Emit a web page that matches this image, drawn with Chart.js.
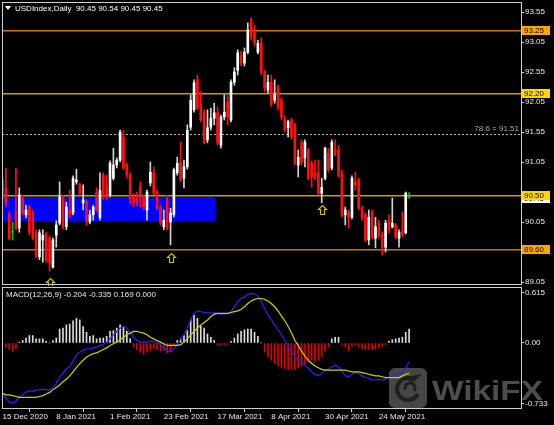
<!DOCTYPE html>
<html>
<head>
<meta charset="utf-8">
<title>USDIndex Daily</title>
<script src="https://cdn.jsdelivr.net/npm/chart.js@4.4.1/dist/chart.umd.min.js"></script>
<style>
  body { margin: 0; background: #000; }
  #wrap { position: relative; width: 554px; height: 425px; background: #000; overflow: hidden; }
  #wrap canvas { position: absolute; left: 0; }
</style>
</head>
<body>
<div id="wrap">
  <canvas id="priceChart" width="554" height="288" style="top:0"></canvas>
  <canvas id="macdChart" width="554" height="139" style="top:286px"></canvas>
</div>
<script>
// chart data (one entry per daily bar, 15 Dec 2020 .. 4 Jun 2021)
let dateTicks = [0, 16, 32, 48, 64, 80, 96, 112];
let dateLabels = ['15 Dec 2020', '8 Jan 2021', '1 Feb 2021', '23 Feb 2021', '17 Mar 2021', '8 Apr 2021', '30 Apr 2021', '24 May 2021'];

let openPrices = [
  90.75, 90.62, 90.17, 89.88, 90.22, 89.95, 90.45, 90.17, 90.30, 90.20,
  89.88, 89.47, 89.75, 89.83, 89.78, 89.30, 89.83, 90.03, 90.47, 89.97,
  90.25, 90.20, 90.72, 90.67, 90.37, 90.38, 90.05, 90.17, 90.55, 90.12,
  90.83, 90.63, 90.50, 90.78, 91.00, 91.08, 91.47, 91.00, 90.83, 90.47,
  90.45, 90.63, 90.45, 90.25, 90.70, 90.87, 90.55, 90.30, 89.97, 90.42,
  90.05, 90.17, 90.87, 91.05, 90.78, 90.97, 91.63, 91.92, 92.42, 92.00,
  91.87, 91.42, 91.63, 91.78, 91.87, 91.33, 91.80, 92.05, 91.75, 92.38,
  92.58, 92.83, 92.70, 92.88, 93.42, 93.22, 92.88, 93.03, 92.55, 92.25,
  92.38, 92.08, 92.30, 92.08, 91.78, 91.62, 91.75, 91.67, 91.00, 91.37,
  91.12, 91.25, 91.03, 90.87, 90.87, 90.53, 90.78, 91.20, 90.95, 91.25,
  91.25, 90.87, 90.17, 90.22, 90.13, 90.72, 90.75, 90.28, 90.17, 89.75,
  90.20, 89.78, 90.03, 89.83, 89.63, 90.08, 89.97, 90.00, 89.78, 89.90,
  89.87, 90.45
];
let highPrices = [
  90.78, 90.95, 90.22, 90.05, 90.95, 90.62, 90.50, 90.33, 90.33, 90.25,
  89.92, 89.92, 89.92, 89.88, 89.82, 89.78, 90.07, 90.72, 90.50, 90.38,
  90.58, 90.82, 90.93, 90.70, 90.67, 90.42, 90.25, 90.33, 90.62, 90.87,
  90.87, 90.83, 91.07, 91.28, 91.12, 91.58, 91.58, 91.03, 90.87, 90.52,
  90.55, 90.72, 90.50, 90.58, 91.05, 90.97, 90.58, 90.33, 90.25, 90.50,
  90.28, 90.95, 91.13, 91.38, 91.08, 91.67, 92.17, 92.42, 92.50, 92.22,
  91.92, 91.92, 91.95, 92.03, 91.97, 91.83, 92.17, 92.17, 92.42, 92.62,
  92.92, 92.90, 92.95, 93.37, 93.45, 93.33, 93.08, 93.12, 92.58, 92.50,
  92.50, 92.42, 92.33, 92.12, 91.82, 91.75, 91.78, 91.70, 91.25, 91.42,
  91.42, 91.28, 91.07, 91.08, 91.08, 90.78, 91.30, 91.28, 91.42, 91.42,
  91.33, 90.92, 90.30, 90.25, 90.82, 90.88, 90.78, 90.32, 90.20, 90.25,
  90.25, 90.13, 90.08, 89.88, 90.08, 90.17, 90.45, 90.03, 89.92, 90.22,
  90.55, 90.54
];
let lowPrices = [
  90.42, 90.30, 89.75, 89.75, 89.92, 89.88, 90.17, 90.12, 89.83, 89.75,
  89.45, 89.42, 89.38, 89.38, 89.23, 89.28, 89.63, 90.00, 89.93, 89.92,
  90.12, 90.17, 90.68, 90.50, 90.25, 90.00, 90.02, 90.08, 90.22, 90.08,
  90.43, 90.42, 90.47, 90.75, 90.95, 91.05, 90.92, 90.78, 90.35, 90.30,
  90.32, 90.30, 90.25, 90.08, 90.65, 90.50, 90.25, 90.00, 89.92, 89.92,
  89.67, 90.13, 90.83, 90.72, 90.62, 90.93, 91.58, 91.88, 91.92, 91.72,
  91.35, 91.37, 91.58, 91.67, 91.33, 91.28, 91.75, 91.67, 91.72, 92.33,
  92.50, 92.65, 92.65, 92.85, 93.08, 92.98, 92.85, 92.50, 92.22, 92.20,
  91.97, 92.03, 91.92, 91.75, 91.55, 91.47, 91.43, 91.00, 90.80, 91.00,
  90.97, 90.75, 90.63, 90.75, 90.50, 90.37, 90.75, 90.88, 90.92, 91.15,
  90.80, 90.13, 90.00, 89.95, 90.10, 90.58, 90.25, 90.08, 89.72, 89.67,
  89.77, 89.62, 89.78, 89.50, 89.55, 89.87, 89.95, 89.77, 89.63, 89.80,
  89.85, 90.45
];
let closePrices = [
  90.47, 90.37, 89.78, 89.88, 89.95, 90.50, 90.20, 90.25, 89.88, 89.78,
  89.50, 89.87, 89.83, 89.42, 89.37, 89.75, 90.00, 90.47, 89.97, 90.30,
  90.17, 90.78, 90.75, 90.53, 90.42, 90.05, 90.17, 90.30, 90.25, 90.58,
  90.47, 90.47, 91.03, 91.00, 91.08, 91.55, 90.95, 90.83, 90.42, 90.37,
  90.37, 90.45, 90.30, 90.55, 90.88, 90.53, 90.28, 90.03, 90.08, 89.95,
  90.20, 90.92, 91.03, 90.75, 90.97, 91.58, 92.08, 92.37, 91.95, 91.75,
  91.38, 91.62, 91.78, 91.87, 91.37, 91.80, 91.88, 91.80, 92.38, 92.55,
  92.87, 92.70, 92.88, 93.25, 93.13, 93.03, 93.03, 92.55, 92.28, 92.38,
  92.03, 92.17, 91.97, 91.80, 91.58, 91.72, 91.47, 91.03, 91.13, 91.05,
  91.38, 90.78, 90.80, 90.80, 90.53, 90.63, 91.28, 90.92, 91.38, 91.20,
  90.83, 90.17, 90.25, 90.12, 90.78, 90.67, 90.28, 90.13, 89.75, 90.13,
  89.80, 89.97, 89.83, 89.63, 90.03, 89.92, 90.03, 89.80, 89.88, 89.83,
  90.53, 90.45
];

// MACD(12,26,9) panel
let macdHist = [
  -0.02, -0.05, -0.08, -0.10, -0.07, 0.01, 0.03, 0.06, 0.09, 0.09,
  0.05, 0.05, 0.05, 0.02, 0.00, 0.03, 0.06, 0.17, 0.18, 0.22,
  0.23, 0.27, 0.30, 0.28, 0.20, 0.13, 0.08, 0.09, 0.05, 0.06,
  0.06, 0.08, 0.14, 0.15, 0.18, 0.22, 0.19, 0.14, 0.05, -0.05,
  -0.08, -0.11, -0.14, -0.11, -0.09, -0.07, -0.08, -0.10, -0.09, -0.12,
  -0.10, -0.03, 0.03, 0.05, 0.09, 0.15, 0.28, 0.34, 0.30, 0.21,
  0.18, 0.11, 0.07, 0.03, -0.03, -0.03, -0.02, -0.02, 0.02, 0.06,
  0.11, 0.14, 0.16, 0.17, 0.17, 0.13, 0.08, 0.00, -0.11, -0.17,
  -0.21, -0.25, -0.28, -0.30, -0.31, -0.32, -0.33, -0.32, -0.30, -0.28,
  -0.25, -0.23, -0.21, -0.22, -0.21, -0.17, -0.10, -0.05, 0.05, 0.07,
  0.07, -0.02, -0.05, -0.09, -0.04, -0.03, -0.05, -0.07, -0.08, -0.07,
  -0.08, -0.07, -0.06, -0.04, -0.02, 0.02, 0.04, 0.05, 0.06, 0.07,
  0.13, 0.17
];
let macdLine = [
  -0.61, -0.67, -0.72, -0.73, -0.71, -0.65, -0.63, -0.60, -0.58, -0.59,
  -0.57, -0.57, -0.56, -0.57, -0.57, -0.55, -0.49, -0.41, -0.37, -0.31,
  -0.29, -0.21, -0.15, -0.11, -0.09, -0.07, -0.07, -0.06, -0.05, -0.03,
  -0.02, 0.01, 0.05, 0.10, 0.14, 0.18, 0.20, 0.18, 0.12, 0.07,
  0.03, 0.01, 0.01, 0.01, 0.02, 0.02, 0.01, -0.02, -0.06, -0.09,
  -0.11, -0.07, -0.01, 0.05, 0.10, 0.18, 0.28, 0.36, 0.39, 0.38,
  0.37, 0.37, 0.36, 0.37, 0.36, 0.35, 0.35, 0.36, 0.38, 0.44,
  0.50, 0.54, 0.56, 0.59, 0.60, 0.60, 0.57, 0.50, 0.42, 0.34,
  0.28, 0.22, 0.16, 0.10, 0.03, -0.03, -0.11, -0.17, -0.21, -0.24,
  -0.27, -0.31, -0.35, -0.38, -0.40, -0.37, -0.33, -0.32, -0.29, -0.27,
  -0.29, -0.34, -0.40, -0.41, -0.38, -0.36, -0.37, -0.40, -0.42, -0.43,
  -0.45, -0.45, -0.44, -0.45, -0.44, -0.41, -0.39, -0.38, -0.37, -0.35,
  -0.30, -0.23
];
let signalLine = [
  -0.61, -0.63, -0.63, -0.64, -0.65, -0.66, -0.66, -0.66, -0.66, -0.66,
  -0.66, -0.65, -0.64, -0.62, -0.60, -0.57, -0.54, -0.51, -0.47, -0.44,
  -0.40, -0.35, -0.30, -0.25, -0.21, -0.17, -0.15, -0.13, -0.12, -0.10,
  -0.08, -0.06, -0.03, -0.01, 0.01, 0.04, 0.07, 0.10, 0.12, 0.14,
  0.14, 0.13, 0.12, 0.10, 0.07, 0.05, 0.03, 0.01, -0.01, -0.03,
  -0.03, -0.03, -0.03, -0.02, 0.01, 0.05, 0.10, 0.14, 0.18, 0.22,
  0.25, 0.28, 0.32, 0.35, 0.36, 0.36, 0.36, 0.36, 0.37, 0.38,
  0.39, 0.41, 0.44, 0.48, 0.51, 0.53, 0.54, 0.54, 0.53, 0.51,
  0.48, 0.44, 0.39, 0.33, 0.27, 0.20, 0.12, 0.03, -0.03, -0.10,
  -0.16, -0.21, -0.25, -0.28, -0.30, -0.32, -0.33, -0.33, -0.33, -0.33,
  -0.33, -0.33, -0.33, -0.34, -0.35, -0.35, -0.35, -0.36, -0.37, -0.38,
  -0.39, -0.40, -0.40, -0.41, -0.42, -0.42, -0.42, -0.42, -0.42, -0.40,
  -0.38, -0.37
];

// axis ticks (90.55 is hidden behind the 90.50 label in the terminal)
let priceTicks = [93.55, 93.05, 92.55, 92.05, 91.55, 91.05, 90.05, 89.55, 89.05];
let macdTicks = [0.615, 0, -0.733];
let macdTickLabels = ['0.615', '0.00', '-0.733'];

// objects drawn on the chart
let levelPrices = [93.25, 92.20, 90.50, 89.60];
let fiboRatio = 78.6;
let fiboPrice = 91.51;
let zoneBars = [0, 63.1];
let zonePrices = [90.47, 90.07];
let arrowBars = [14, 50, 95];
let arrowPrices = [89.12, 89.53, 90.33];
let symbolName = 'USDIndex,Daily';
let lastBar = [90.45, 90.54, 90.45, 90.45];
let bidPrice = 90.45;
let macdHeader = [-0.204, -0.335, 0.169, 0.000];

// styles
let levelLineColors = ['#c87a00', '#c9a000', '#c9a000', '#c87a00'];
let levelBoxColors = ['#ffa500', '#ffd700', '#ffd700', '#ffa500'];
let frameColor = '#cfcfcf';
let fontFamily = '"Liberation Sans", Arial, sans-serif';
let xMin = -0.15, xMax = 154.3;

Chart.defaults.font.family = fontFamily;
Chart.defaults.font.size = 8;
Chart.defaults.color = '#e8e8e8';

let bars = openPrices.map((v, i) => i);
let bodyColors = bars.map(i => closePrices[i] > openPrices[i] ? '#ffffff' : (closePrices[i] < openPrices[i] ? '#ff1010' : '#00c800'));
let wickColors = bars.map(i => closePrices[i] > openPrices[i] ? '#d4d4d4' : (closePrices[i] < openPrices[i] ? '#ff1010' : '#00c800'));

function blackBackground(chart) {
    let ctx = chart.ctx;
    ctx.save();
    ctx.fillStyle = '#000';
    ctx.fillRect(0, 0, chart.width, chart.height);
    ctx.restore();
}

function drawFrame(ctx, a, top, bottom) {
    ctx.save();
    ctx.strokeStyle = frameColor;
    ctx.lineWidth = 1;
    ctx.strokeRect(a.left + 0.5, top + 0.5, a.right - a.left, bottom - top);
    ctx.restore();
}

let mainOverlay = {
    id: 'mainOverlay',
    beforeDraw: blackBackground,
    beforeDatasetsDraw(chart) {
        let ctx = chart.ctx, a = chart.chartArea, x = chart.scales.x, y = chart.scales.y;
        ctx.save();
        ctx.beginPath();
        ctx.rect(a.left, a.top, a.right - a.left, a.bottom - a.top);
        ctx.clip();

        // blue zone rectangle
        let zx1 = x.getPixelForValue(zoneBars[0]), zx2 = x.getPixelForValue(zoneBars[1]);
        let zy1 = y.getPixelForValue(zonePrices[0]), zy2 = y.getPixelForValue(zonePrices[1]);
        ctx.fillStyle = '#0000ff';
        ctx.fillRect(Math.round(zx1), Math.round(zy1), Math.round(zx2 - zx1), Math.round(zy2 - zy1));

        // horizontal levels
        ctx.lineWidth = 1.5;
        levelPrices.forEach((p, k) => {
            let py = Math.round(y.getPixelForValue(p)) + 0.75;
            ctx.strokeStyle = levelLineColors[k];
            ctx.beginPath();
            ctx.moveTo(a.left, py);
            ctx.lineTo(a.right, py);
            ctx.stroke();
        });

        // fibo 78.6 dashed line
        let fy = Math.round(y.getPixelForValue(fiboPrice)) + 0.5;
        ctx.lineWidth = 1;
        ctx.setLineDash([2, 2]);
        ctx.strokeStyle = '#b4b4b4';
        ctx.beginPath();
        ctx.moveTo(a.left, fy);
        ctx.lineTo(a.right, fy);
        ctx.stroke();
        ctx.setLineDash([]);
        ctx.fillStyle = '#a8a8a8';
        ctx.font = '8px ' + fontFamily;
        ctx.textAlign = 'right';
        ctx.textBaseline = 'middle';
        ctx.fillText(fiboRatio.toFixed(1) + ' = ' + fiboPrice.toFixed(2), a.right - 2, fy - 5.5);
        ctx.restore();
    },
    afterDatasetsDraw(chart) {
        // up arrows under the swing lows
        let ctx = chart.ctx, x = chart.scales.x, y = chart.scales.y;
        ctx.save();
        ctx.strokeStyle = '#c8c000';
        ctx.fillStyle = '#000';
        ctx.lineWidth = 1.2;
        arrowBars.forEach((b, k) => {
            let ax = Math.round(x.getPixelForValue(b)) + 0.5;
            let ay = Math.round(y.getPixelForValue(arrowPrices[k])) + 0.5;
            ctx.beginPath();
            ctx.moveTo(ax, ay);
            ctx.lineTo(ax + 4, ay + 4);
            ctx.lineTo(ax + 2, ay + 4);
            ctx.lineTo(ax + 2, ay + 9);
            ctx.lineTo(ax - 2, ay + 9);
            ctx.lineTo(ax - 2, ay + 4);
            ctx.lineTo(ax - 4, ay + 4);
            ctx.closePath();
            ctx.fill();
            ctx.stroke();
        });
        ctx.restore();
    },
    afterDraw(chart) {
        let ctx = chart.ctx, a = chart.chartArea, y = chart.scales.y;
        drawFrame(ctx, a, 2, 284);

        ctx.save();
        ctx.font = '8px ' + fontFamily;
        ctx.textBaseline = 'middle';
        ctx.textAlign = 'left';

        // price labels of the levels on the right axis
        let bidY = Math.round(y.getPixelForValue(bidPrice));
        ctx.fillStyle = '#ffffff';
        ctx.fillRect(a.right + 1, bidY - 4, 28, 9);
        ctx.fillStyle = '#000';
        ctx.fillText(bidPrice.toFixed(2), a.right + 3, bidY + 0.5);
        levelPrices.forEach((p, k) => {
            let py = Math.round(y.getPixelForValue(p));
            ctx.fillStyle = levelBoxColors[k];
            ctx.fillRect(a.right + 1, py - 4, 28, 9);
            ctx.fillStyle = '#000';
            ctx.fillText(p.toFixed(2), a.right + 3, py + 0.5);
        });

        // header
        ctx.fillStyle = '#ffffff';
        ctx.beginPath();
        ctx.moveTo(5, 6);
        ctx.lineTo(11, 6);
        ctx.lineTo(8, 10);
        ctx.closePath();
        ctx.fill();
        ctx.fillText(symbolName + '  ' + lastBar.map(v => v.toFixed(2)).join(' '), 15, 8.5);
        ctx.restore();
    }
};

function drawWatermark(ctx) {
    ctx.save();
    ctx.globalAlpha = 0.9;
    // logo square
    let lx = 389, ly = 82, lw = 38, lh = 40, r = 6;
    ctx.beginPath();
    ctx.moveTo(lx + r, ly);
    ctx.arcTo(lx + lw, ly, lx + lw, ly + lh, r);
    ctx.arcTo(lx + lw, ly + lh, lx, ly + lh, r);
    ctx.arcTo(lx, ly + lh, lx, ly, r);
    ctx.arcTo(lx, ly, lx + lw, ly, r);
    ctx.closePath();
    ctx.fillStyle = '#4e4e4e';
    ctx.fill();
    // swirl of the eagle
    ctx.strokeStyle = '#1c1c1c';
    ctx.lineWidth = 4;
    ctx.beginPath();
    ctx.arc(408, 103, 11, Math.PI * 0.15, Math.PI * 1.55);
    ctx.stroke();
    ctx.lineWidth = 3;
    ctx.beginPath();
    ctx.arc(410, 102, 5, Math.PI * 0.9, Math.PI * 2.2);
    ctx.stroke();
    ctx.fillStyle = '#1c1c1c';
    ctx.beginPath();
    ctx.moveTo(400, 92);
    ctx.lineTo(422, 88);
    ctx.lineTo(414, 96);
    ctx.closePath();
    ctx.fill();
    // text
    ctx.font = 'bold 28px ' + fontFamily;
    ctx.fillStyle = '#555555';
    ctx.textBaseline = 'alphabetic';
    let w = ctx.measureText('WikiFX').width;
    ctx.translate(432, 114);
    ctx.scale(111 / w, 1);
    ctx.fillText('WikiFX', 0, 0);
    ctx.restore();
}

let macdOverlay = {
    id: 'macdOverlay',
    beforeDraw: blackBackground,
    beforeDatasetsDraw(chart) {
        drawWatermark(chart.ctx);
    },
    afterDraw(chart) {
        let ctx = chart.ctx, a = chart.chartArea;
        drawFrame(ctx, a, 1, 122);
        ctx.save();
        ctx.font = '8px ' + fontFamily;
        ctx.fillStyle = '#e8e8e8';
        ctx.textBaseline = 'middle';
        ctx.fillText('MACD(12,26,9) ' + macdHeader.map(v => v.toFixed(3)).join(' '), 6, 9);
        ctx.restore();
    }
};

// price chart: candle bodies and wicks as floating bars
let priceCtx = document.getElementById('priceChart').getContext('2d');
let priceChart = new Chart(priceCtx, {
    type: 'bar',
    data: {
        datasets: [{
            label: 'body',
            data: bars.map(i => ({ x: i, y: [openPrices[i], closePrices[i]] })),
            backgroundColor: bodyColors,
            barThickness: 2,
            minBarLength: 1,
            grouped: false
        }, {
            label: 'wick',
            data: bars.map(i => ({ x: i, y: [lowPrices[i], highPrices[i]] })),
            backgroundColor: wickColors,
            barThickness: 1,
            grouped: false
        }]
    },
    options: {
        responsive: false,
        animation: false,
        devicePixelRatio: 1,
        events: [],
        layout: { padding: { left: 2, top: 2, right: 0, bottom: 3 } },
        plugins: { legend: { display: false }, tooltip: { enabled: false } },
        scales: {
            x: { type: 'linear', display: false, min: xMin, max: xMax, offset: false },
            y: {
                position: 'right',
                min: 89.0,
                max: 93.7167,
                beginAtZero: false,
                afterBuildTicks: s => { s.ticks = priceTicks.map(v => ({ value: v })); },
                afterFit: s => { s.width = 33; s.paddingTop = 0; s.paddingBottom = 0; },
                ticks: { color: '#e8e8e8', padding: 1, font: { size: 8 }, callback: v => v.toFixed(2) },
                grid: { drawOnChartArea: false, tickLength: 3, color: frameColor },
                border: { display: false }
            }
        }
    },
    plugins: [mainOverlay]
});

// MACD panel
let macdCtx = document.getElementById('macdChart').getContext('2d');
let macdChart = new Chart(macdCtx, {
    type: 'bar',
    data: {
        datasets: [{
            type: 'line',
            label: 'signal',
            data: bars.map(i => ({ x: i, y: signalLine[i] })),
            borderColor: '#d0d000',
            borderWidth: 1.2,
            pointRadius: 0,
            tension: 0
        }, {
            type: 'line',
            label: 'macd',
            data: bars.map(i => ({ x: i, y: macdLine[i] })),
            borderColor: '#2424ff',
            borderWidth: 1.2,
            pointRadius: 0,
            tension: 0
        }, {
            label: 'histogram',
            data: bars.map(i => ({ x: i, y: macdHist[i] })),
            backgroundColor: macdHist.map(v => v >= 0 ? '#dcdcdc' : '#e00000'),
            barThickness: 1,
            grouped: false
        }]
    },
    options: {
        responsive: false,
        animation: false,
        devicePixelRatio: 1,
        events: [],
        layout: { padding: { left: 2, top: 1, right: 0, bottom: 0 } },
        plugins: { legend: { display: false }, tooltip: { enabled: false } },
        scales: {
            x: {
                type: 'linear',
                min: xMin,
                max: xMax,
                offset: false,
                afterBuildTicks: s => { s.ticks = dateTicks.map(v => ({ value: v })); },
                afterFit: s => { s.height = 17; s.paddingLeft = 0; s.paddingRight = 0; },
                ticks: {
                    color: '#e8e8e8',
                    align: 'start',
                    padding: 0,
                    autoSkip: false,
                    maxRotation: 0,
                    font: { size: 8 },
                    callback: (v, idx) => dateLabels[idx]
                },
                grid: { drawOnChartArea: false, tickLength: 4, color: frameColor },
                border: { display: false }
            },
            y: {
                position: 'right',
                min: -0.79,
                max: 0.68,
                beginAtZero: false,
                afterBuildTicks: s => { s.ticks = macdTicks.map(v => ({ value: v })); },
                afterFit: s => { s.width = 33; s.paddingTop = 0; s.paddingBottom = 0; },
                ticks: { color: '#e8e8e8', padding: 1, font: { size: 8 }, callback: (v, idx) => macdTickLabels[idx] },
                grid: { drawOnChartArea: false, tickLength: 3, color: frameColor },
                border: { display: false }
            }
        }
    },
    plugins: [macdOverlay]
});
</script>
</body>
</html>
